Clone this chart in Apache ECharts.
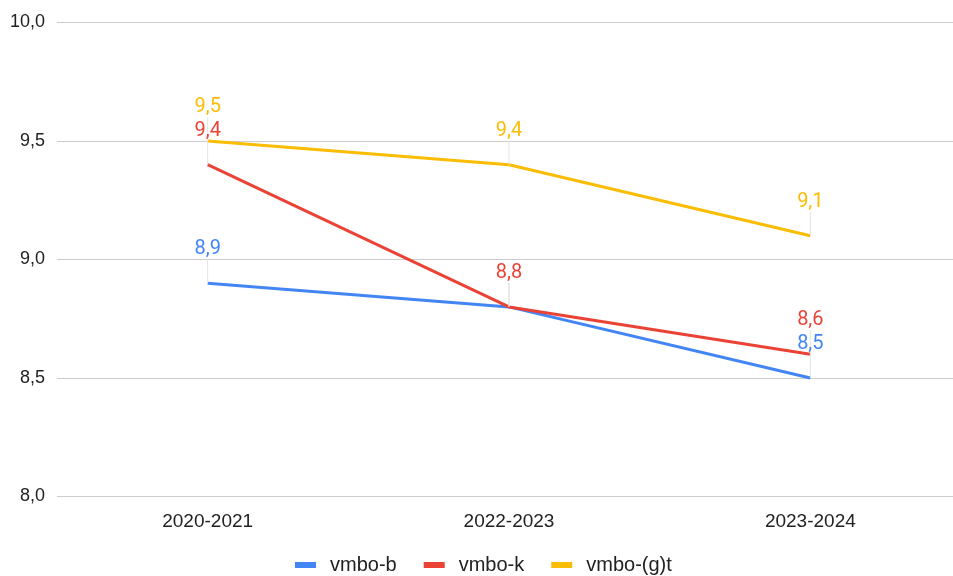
<!DOCTYPE html>
<html><head><meta charset="utf-8">
<script src="https://cdn.jsdelivr.net/npm/echarts@6/dist/echarts.min.js"></script>
<style>html,body{margin:0;padding:0;background:#fff;overflow:hidden}#c{width:970px;height:576px}</style>
</head><body><div id="c"></div>
<script>
const categories = ['2020-2021', '2022-2023', '2023-2024'];
const vmboB = [8.9, 8.8, 8.5];
const vmboK = [9.4, 8.8, 8.6];
const vmboGT = [9.5, 9.4, 9.1];
const seriesNames = ['vmbo-b', 'vmbo-k', 'vmbo-(g)t'];
const colors = ['#4285F4', '#EA4335', '#FBBC04'];
const yTicks = [8.0, 8.5, 9.0, 9.5, 10.0];

const fmt = v => v.toFixed(1).replace('.', ',');
const chart = echarts.init(document.getElementById('c'));
function mk(name, data, color, showLbl) {
  return {
    name, type: 'line', data, color,
    symbol: 'circle', symbolSize: 0.1,
    lineStyle: { width: 3, color },
    label: {
      show: true, position: 'top', distance: 4,
      formatter: p => showLbl[p.dataIndex] ? fmt(p.value) : '',
      color, fontFamily: 'Roboto', fontSize: 20
    },
    labelLayout: { dy: -20 },
    labelLine: { show: true, lineStyle: { color: '#e3e3e3', width: 1 } },
    emphasis: { disabled: true }
  };
}
chart.setOption({
  animation: false,
  grid: { left: 57, top: 22.5, width: 904, height: 474, containLabel: false },
  legend: {
    top: 555, left: 295, padding: 0, itemWidth: 21, itemHeight: 6, itemGap: 27,
    icon: 'rect',
    textStyle: { fontFamily: 'Liberation Sans', fontSize: 20, color: '#222', padding: [0, 0, 0, 9] },
    data: seriesNames
  },
  xAxis: {
    type: 'category', data: categories, boundaryGap: true,
    axisLine: { show: false }, axisTick: { show: false },
    axisLabel: { fontFamily: 'Liberation Sans', fontSize: 19, color: '#222', margin: 16 }
  },
  yAxis: {
    type: 'value', min: yTicks[0], max: yTicks[yTicks.length - 1], interval: 0.5,
    axisLabel: { fontFamily: 'Liberation Sans', fontSize: 18, color: '#222', margin: 12, formatter: v => fmt(v) },
    splitLine: { lineStyle: { color: '#ccc', width: 1 } }
  },
  series: [
    mk(seriesNames[0], vmboB, colors[0], [true, false, true]),
    mk(seriesNames[1], vmboK, colors[1], [true, true, true]),
    mk(seriesNames[2], vmboGT, colors[2], [true, true, true])
  ]
});
</script></body></html>
